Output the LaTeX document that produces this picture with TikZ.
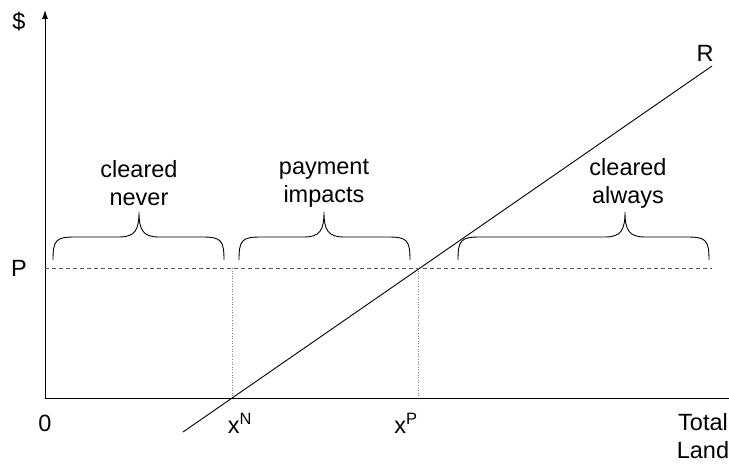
\documentclass[tikz,border=0pt]{standalone}
\usepackage{fontspec}
\setmainfont{Liberation Sans}
\usetikzlibrary{arrows.meta}
\begin{document}
\begin{tikzpicture}[x=1pt,y=-1pt,
  lbl/.style={font=\fontsize{23.5}{28}\selectfont, inner sep=0pt, align=center},
  axis/.style={line width=0.9pt, black},
  bracepath/.style={line width=0.9pt},
  guide/.style={dotted, gray, line width=0.6pt},
  price/.style={dash pattern=on 4pt off 3pt, gray!70!black, line width=0.8pt}]
\useasboundingbox (0,0) rectangle (729,465);
% axes
\coordinate (O) at (45,398);
\coordinate (Ytop) at (45,10);
\coordinate (Xend) at (729,398);
\draw[axis,-{Latex[length=9pt,width=6pt]}] (O) -- (Ytop);
\draw[axis] (O) -- (Xend);
% price line
\coordinate (Pl) at (45,268);
\coordinate (Pr) at (712,268);
\draw[price] (Pl) -- (Pr);
% R line
\coordinate (Ra) at (183,432);
\coordinate (Rb) at (712,66);
\draw[line width=0.9pt] (Ra) -- (Rb);
% guides
\coordinate (xN) at (232,398);
\coordinate (xNt) at (232,268);
\coordinate (xP) at (418,398);
\coordinate (xPt) at (418,268);
\draw[guide] (xNt) -- (xN);
\draw[guide] (xPt) -- (xP);
% braces
\foreach \a/\c/\b in {53/139/224, 239/324/410, 458/625/709}{
  \draw[bracepath] (\a,260) .. controls (\a,240) and (\a+3,237) .. (\a+22,237)
     -- (\c-20,237) .. controls (\c-4,237) and (\c,230) .. (\c,212)
     .. controls (\c,230) and (\c+4,237) .. (\c+20,237)
     -- (\b-22,237) .. controls (\b-3,237) and (\b,240) .. (\b,260);
}
% labels
\node[lbl] (dollar) at (19,22) {\$};
\node[lbl] (Plbl) at (19,268) {P};
\node[lbl] (zero) at (45,423) {0};
\node[lbl] (xNl) at (240,423) {x\textsuperscript{N}};
\node[lbl] (xPl) at (406,423) {x\textsuperscript{P}};
\node[lbl] (total) at (703,436) {Total\\Land};
\node[lbl] (Rl) at (705,53) {R};
\node[lbl] (never) at (139,183) {cleared\\never};
\node[lbl] (pay) at (324,183) {payment\\impacts};
\node[lbl] (always) at (628,183) {cleared\\always};
\end{tikzpicture}
\end{document}
